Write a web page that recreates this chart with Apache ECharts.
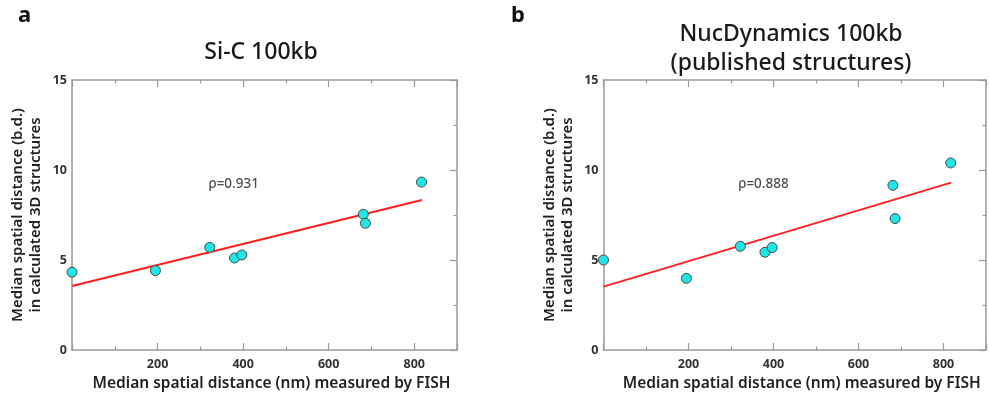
<!DOCTYPE html>
<html>
<head>
<meta charset="utf-8">
<script src="https://cdn.jsdelivr.net/npm/echarts@6/dist/echarts.min.js"></script>
<style>
html,body{margin:0;padding:0;background:#fff;}
#c{width:989px;height:398px;}
</style>
</head>
<body>
<div id="c"></div>
<script>
// ---- data ----
const fishX = [0, 195, 322, 380, 397, 681, 686, 817];          // nm, measured by FISH
const sicY = [4.32, 4.41, 5.70, 5.11, 5.28, 7.54, 7.04, 9.33];    // Si-C 100kb
const nucY = [5.00, 3.98, 5.76, 5.43, 5.69, 9.15, 7.30, 10.39];   // NucDynamics 100kb
const fitX = [0, 818];
const sicFit = [3.56, 8.33];
const nucFit = [3.52, 9.30];
const rhoText = ['ρ=0.931', 'ρ=0.888'];
const rhoAt = [[319, 9.2], [317, 9.2]];
const titles = ['Si-C 100kb', 'NucDynamics 100kb\n(published structures)'];
const panelLetters = ['a', 'b'];
const xTickLabels = [200, 400, 600, 800];
const yTickLabels = [0, 5, 10, 15];

const FONT = '"Noto Sans", "Open Sans", sans-serif';
const AX = '#9a9a9a';
const TXT = '#333';

const grids = [
  {left: 72, top: 80, width: 385, height: 270},
  {left: 603.5, top: 80, width: 384, height: 270}
];

const xAxes = [], yAxes = [], series = [];
grids.forEach((g, i) => {
  const common = {
    gridIndex: i, type: 'value', min: 0, max: 900, interval: 200,
    axisLine: {show: true, onZero: false, lineStyle: {color: AX, width: 1.5}},
    axisTick: {show: true, inside: true, length: 7, lineStyle: {color: AX, width: 1.2}},
    minorTick: {show: true, splitNumber: 2, length: 3.5, lineStyle: {color: AX, width: 1.2}},
    splitLine: {show: false}
  };
  xAxes.push(Object.assign({}, common, {
    position: 'bottom',
    axisLabel: {
      color: TXT, fontFamily: FONT, fontSize: 12.5, fontWeight: 'bold', margin: 8,
      formatter: v => (xTickLabels.indexOf(v) >= 0 ? String(v) : '')
    },
    name: 'Median spatial distance (nm) measured by FISH',
    nameLocation: 'middle', nameGap: 24,
    nameTextStyle: {color: '#222', fontFamily: FONT, fontSize: 15.5, fontWeight: 600, padding: [0, 0, 0, 14]}
  }));
  xAxes.push(Object.assign({}, common, {position: 'top', axisLabel: {show: false}}));
  const ycommon = {
    gridIndex: i, type: 'value', min: 0, max: 15, interval: 5,
    axisLine: {show: true, onZero: false, lineStyle: {color: AX, width: 1.5}},
    splitLine: {show: false}
  };
  yAxes.push(Object.assign({}, ycommon, {
    position: 'left',
    axisTick: {show: false},
    axisLabel: {
      color: TXT, fontFamily: FONT, fontSize: 12.5, fontWeight: 'bold', margin: 5,
      formatter: v => (yTickLabels.indexOf(v) >= 0 ? String(v) : '')
    },
    name: 'Median spatial distance (b.d.)\nin calculated 3D structures',
    nameLocation: 'middle', nameGap: 27, nameRotate: 90,
    nameTextStyle: {color: '#222', fontFamily: FONT, fontSize: 15, fontWeight: 600, lineHeight: 18}
  }));
  yAxes.push(Object.assign({}, ycommon, {
    position: 'right',
    axisTick: {show: true, inside: true, length: 7, lineStyle: {color: AX, width: 1.2}},
    minorTick: {show: true, splitNumber: 2, length: 3.5, lineStyle: {color: AX, width: 1.2}},
    axisLabel: {show: false}
  }));

  const ys = i === 0 ? sicY : nucY;
  const fit = i === 0 ? sicFit : nucFit;
  series.push({
    type: 'line', xAxisIndex: 2 * i, yAxisIndex: 2 * i,
    data: fitX.map((x, k) => [x, fit[k]]),
    symbol: 'none', lineStyle: {color: '#ff1f1f', width: 2}, z: 2, silent: true
  });
  series.push({
    type: 'scatter', xAxisIndex: 2 * i, yAxisIndex: 2 * i,
    data: fishX.map((x, k) => [x, ys[k]]),
    symbol: 'circle', symbolSize: 10, clip: false,
    itemStyle: {color: '#1fe6e6', borderColor: '#4a4a4a', borderWidth: 1, opacity: 1},
    z: 3
  });
  series.push({
    type: 'scatter', xAxisIndex: 2 * i, yAxisIndex: 2 * i,
    data: [rhoAt[i]], symbolSize: 0, silent: true,
    label: {show: true, position: 'right', distance: 0, formatter: rhoText[i],
      color: '#222', fontFamily: FONT, fontSize: 13.5, fontWeight: 500}
  });
});

const chart = echarts.init(document.getElementById('c'), null, {renderer: 'canvas'});
chart.setOption({
  animation: false,
  backgroundColor: '#fff',
  grid: grids,
  xAxis: xAxes,
  yAxis: yAxes,
  series: series,
  title: [
    {text: titles[0], left: 256, top: 36, textAlign: 'center',
     textStyle: {color: '#1a1a1a', fontFamily: FONT, fontSize: 23, fontWeight: 500}},
    {text: titles[1], left: 786, top: 15, textAlign: 'center',
     textStyle: {color: '#1a1a1a', fontFamily: FONT, fontSize: 23, fontWeight: 500, lineHeight: 29}},
    {text: panelLetters[0], left: 13, top: 0,
     textStyle: {color: '#111', fontFamily: FONT, fontSize: 22, fontWeight: 'bold'}},
    {text: panelLetters[1], left: 506, top: 0,
     textStyle: {color: '#111', fontFamily: FONT, fontSize: 22, fontWeight: 'bold'}}
  ]
});
</script>
</body>
</html>
